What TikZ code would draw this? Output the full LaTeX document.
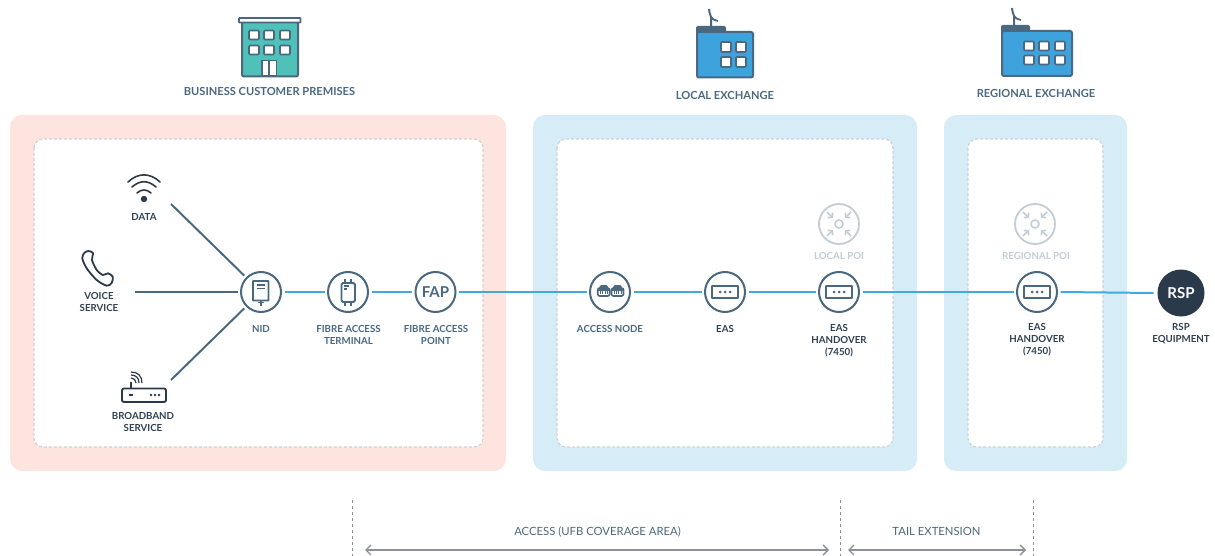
\documentclass[tikz,border=0pt]{standalone}
\usepackage{fontspec}
\setmainfont{Lato}
\usetikzlibrary{arrows.meta}
\definecolor{slate}{HTML}{4A6880}
\definecolor{ink}{HTML}{2B3A4A}
\definecolor{linkblue}{HTML}{3FA9E0}
\definecolor{pinkpanel}{HTML}{FDE4DF}
\definecolor{bluepanel}{HTML}{D6ECF7}
\definecolor{teal}{HTML}{4FC1B8}
\definecolor{roofblue}{HTML}{3EA3DC}
\definecolor{paleline}{HTML}{C3CDD4}
\definecolor{rulegray}{HTML}{8A9198}
\tikzset{
  panel/.style={rounded corners=12pt},
  inner panel/.style={draw=black!18,fill=white,dash pattern=on 3pt off 2pt,line width=1.2pt,rounded corners=9pt},
  hub/.style={minimum size=40pt,draw=slate,fill=white,circle,line width=2pt,outer sep=3.5pt,inner sep=0pt},
  palehub/.style={minimum size=40pt,draw=paleline,circle,line width=1.8pt,inner sep=0pt},
  tag/.style={font=\bfseries\fontsize{9.7}{12}\selectfont,text=slate,align=center,inner sep=0pt},
  darktag/.style={tag,text=ink!85!slate},
  paletag/.style={tag,text=paleline},
  headtag/.style={font=\bfseries\fontsize{11.1}{12}\selectfont,text=slate,inner sep=0pt},
  spantag/.style={font=\fontsize{11.3}{12}\selectfont,text=slate,inner sep=0pt},
  feed/.style={draw=slate,line width=2pt},
  link/.style={draw=linkblue,line width=2pt},
  span/.style={draw=rulegray,line width=1.3pt,{Straight Barb[length=5pt,width=10pt]}-{Straight Barb[length=5pt,width=10pt]}},
  limit/.style={draw=rulegray,line width=1pt,dash pattern=on 3pt off 3pt},
  glass/.style={draw=slate,fill=white,line width=1.7pt,rounded corners=1pt},
  pics/eas/.style={code={
    \draw[slate,line width=1.9pt,rounded corners=.5pt] (-13,-6) rectangle (13,6);
    \foreach \i in {-5,0,5} \fill[slate] (\i,0) circle (1.5);
  }},
  pics/poi/.style={code={
    \draw[paleline,line width=1.6pt] (0,0) circle (4);
    \foreach \i/\j in {-1/-1,1/-1,-1/1,1/1}
      \draw[paleline,line width=1.6pt,-{Straight Barb[length=3pt,width=7pt]}] (12*\i,12*\j) -- (6*\i,6*\j);
  }},
  pics/jack/.style={code={
    \draw[slate,fill=slate,line width=1.2pt,rounded corners=1pt] (-3.5,-4) rectangle (3.5,-6.2);
    \draw[slate,fill=white,line width=1.6pt,rounded corners=2pt] (-6,-4) rectangle (6,4);
    \fill[slate] (-6,-4) rectangle (6,-1);
    \foreach \i in {-3.6,-1.2,1.2,3.6} \fill[slate] (\i-.4,-1) rectangle (\i+.4,1.5);
  }},
}
\begin{document}
\begin{tikzpicture}[x=1pt,y=-1pt]
\useasboundingbox (0,0) rectangle (1215,556);
% panels
\fill[panel,pinkpanel] (10,115) rectangle (506,471);
\fill[panel,bluepanel] (533,115) rectangle (917,471);
\fill[panel,bluepanel] (944,115) rectangle (1127,471);
\draw[inner panel] (34,139) rectangle (483,447);
\draw[inner panel] (557,139) rectangle (893,447);
\draw[inner panel] (968,139) rectangle (1103,447);
% business building
\draw[slate,fill=teal,line width=2pt,rounded corners=2pt] (242,22) rectangle (298,76.5);
\draw[slate,fill=white,line width=1.7pt,rounded corners=.5pt] (239,18) rectangle (300.5,22.5);
\foreach \x in {254,269,285} \foreach \y in {35,50}
  \draw[glass] (\x-5,\y-4.5) rectangle (\x+5,\y+4.5);
\draw[glass,rounded corners=0pt] (262,60.5) rectangle (276.5,76);
\draw[slate,line width=1.7pt] (269.2,60.5) -- (269.2,76);
% local exchange
\draw[slate,line width=2pt] (711,27) -- (711,17) .. controls (710,14) and (709,12) .. (709,9);
\draw[slate,line width=1.8pt] (711,17) .. controls (712,19) and (714,20) .. (718,21);
\fill[slate,rounded corners=2pt] (696,26) rectangle (726,36);
\draw[slate,fill=roofblue,line width=2pt,rounded corners=2pt] (697,32) rectangle (753,77.5);
\foreach \x in {726,741} \foreach \y in {47,62}
  \draw[glass] (\x-5,\y-5) rectangle (\x+5,\y+5);
% regional exchange
\draw[slate,line width=2pt] (1014,26) -- (1014,16) .. controls (1013,13) and (1012,11) .. (1012,8);
\draw[slate,line width=1.8pt] (1014,16) .. controls (1015,18) and (1017,19) .. (1021,20);
\fill[slate,rounded corners=2pt] (1001,25) rectangle (1030,36);
\draw[slate,fill=roofblue,line width=2pt,rounded corners=2pt] (1002,31) rectangle (1072,76);
\foreach \x in {1029,1044,1060} \foreach \y in {46,60}
  \draw[glass] (\x-5,\y-4.5) rectangle (\x+5,\y+4.5);
% heading labels
\draw (269.5,91) node[headtag](premises) {BUSINESS CUSTOMER PREMISES};
\draw (725,95) node[headtag](localhead) {LOCAL EXCHANGE};
\draw (1036,93) node[headtag](regionalhead) {REGIONAL EXCHANGE};
% hubs
\draw (261,292) node[hub](nid) {};
\draw (348,292) node[hub](fat) {};
\draw (435.5,292) node[hub,text=slate,font=\bfseries\fontsize{15}{15}\selectfont](fap) {FAP};
\draw (610,292) node[hub](access) {};
\draw (725,292) node[hub](eas) {};
\draw (839,292) node[hub](localeas) {};
\draw (1037,292) node[hub](regionaleas) {};
\draw (1181,293) node[minimum size=47pt,fill=ink,circle,inner sep=0pt,outer sep=4pt,text=white,font=\bfseries\fontsize{15}{15}\selectfont](rsp) {RSP};
\draw (839,224) node[palehub](localpoi) {};
\draw (1035,224) node[palehub](regionalpoi) {};
% hub icons
\draw[slate,line width=1.9pt,rounded corners=.5pt] (253,281) rectangle (268.5,300.5);
\draw[slate,line width=1.1pt] (257,285) -- (265,285) (257,288.5) -- (265,288.5);
\draw[slate,line width=1.4pt] (261,300.5) -- (261,306) (258,302.5) -- (264,302.5);
\draw[slate,line width=1.9pt,rounded corners=1.5pt] (341.5,283) rectangle (355,302);
\draw[slate,line width=1.1pt] (344,286) -- (349,286) (344,289) -- (347,289);
\draw[slate,line width=1.4pt] (345,279) -- (345,283) (351,279) -- (351,283) (345,302) -- (345,306) (351,302) -- (351,306);
\draw (603.7,292) pic {jack};
\draw (617.5,292) pic {jack};
\draw (725,292) pic {eas};
\draw (839,292) pic {eas};
\draw (1037,292) pic {eas};
\draw (839,224) pic {poi};
\draw (1035,224) pic {poi};
% wifi
\draw[ink,line width=1.6pt,line cap=round] (128,182) .. controls (138,172.5) and (150,172.5) .. (160,182);
\draw[ink,line width=1.6pt,line cap=round] (132,187) .. controls (140,180) and (148,180) .. (156,187);
\draw[ink,line width=1.6pt,line cap=round] (137,193) .. controls (141,189) and (147,189) .. (151,193);
\fill[ink] (144,199) circle (3.2);
% phone
\draw[ink,line width=1.8pt,line join=round] plot[smooth cycle,tension=.5] coordinates {(84.3,253) (88.3,251) (93,253) (92,260) (96.7,270) (103,275) (108,273.3) (112.7,276.7) (111.7,283) (106.7,285.7) (96.7,280) (86.7,268.3) (82.3,258.3)};
% router
\draw[ink,line width=1.9pt,rounded corners=2pt] (122,388.5) rectangle (166,402);
\draw[ink,line width=1.8pt] (130.7,388.5) -- (130.7,382);
\draw[ink,line width=1.2pt] (131,378) .. controls (134,378) and (136,380) .. (136,383);
\draw[ink,line width=1.2pt] (131,375) .. controls (136,375) and (139,378) .. (139,383);
\draw[ink,line width=1.2pt] (131,372) .. controls (138,372) and (142,376) .. (142,383);
\draw[ink,line width=1.4pt] (129,395) -- (133,395);
\foreach \x in {151,155,159} \fill[ink] (\x,395) circle (1.3);
% service labels
\draw (144,216.5) node[darktag](datatag) {DATA};
\draw (99,301.5) node[darktag](voicetag) {VOICE\\SERVICE};
\draw (143,421.5) node[darktag](broadbandtag) {BROADBAND\\SERVICE};
% hub labels
\draw (261,328.5) node[tag](nidtag) {NID};
\draw (348.5,334.5) node[tag](fattag) {FIBRE ACCESS\\TERMINAL};
\draw (436,334.5) node[tag](faptag) {FIBRE ACCESS\\POINT};
\draw (610,328.5) node[tag](accesstag) {ACCESS NODE};
\draw (725,328.5) node[darktag](eastag) {EAS};
\draw (839,340.5) node[darktag](localeastag) {EAS\\HANDOVER\\(7450)};
\draw (1037,339.5) node[darktag](regionaleastag) {EAS\\HANDOVER\\(7450)};
\draw (1181,333.5) node[darktag](rsptag) {RSP\\EQUIPMENT};
\draw (839,255.5) node[paletag](localpoitag) {LOCAL POI};
\draw (1036,255.5) node[paletag](regionalpoitag) {REGIONAL POI};
% connectors
\coordinate (dataend) at (171,204);
\coordinate (voiceend) at (135,292);
\coordinate (broadbandend) at (171,380);
\draw[feed] (dataend) -- (nid);
\draw[feed] (voiceend) -- (nid);
\draw[feed] (broadbandend) -- (nid);
\draw[link] (nid) -- (fat);
\draw[link] (fat) -- (fap);
\draw[link] (fap) -- (access);
\draw[link] (access) -- (eas);
\draw[link] (eas) -- (localeas);
\draw[link] (localeas) -- (regionaleas);
\draw[link] (regionaleas.east) -- (rsp.west);
% bottom spans
\coordinate (limita) at (352,500);
\coordinate (limitb) at (840,500);
\coordinate (limitc) at (1033,500);
\coordinate (limitaend) at (352,556);
\coordinate (limitbend) at (840,556);
\coordinate (limitcend) at (1033,556);
\draw[limit] (limita) -- (limitaend);
\draw[limit] (limitb) -- (limitbend);
\draw[limit] (limitc) -- (limitcend);
\coordinate (spanaleft) at (365,550);
\coordinate (spanaright) at (829,550);
\coordinate (spanbleft) at (848,550);
\coordinate (spanbright) at (1026,550);
\draw[span] (spanaleft) -- (spanaright);
\draw[span] (spanbleft) -- (spanbright);
\draw (597.5,531.5) node[spantag](accessspan) {ACCESS (UFB COVERAGE AREA)};
\draw (936.5,531.5) node[spantag](tailspan) {TAIL EXTENSION};
\end{tikzpicture}
\end{document}
